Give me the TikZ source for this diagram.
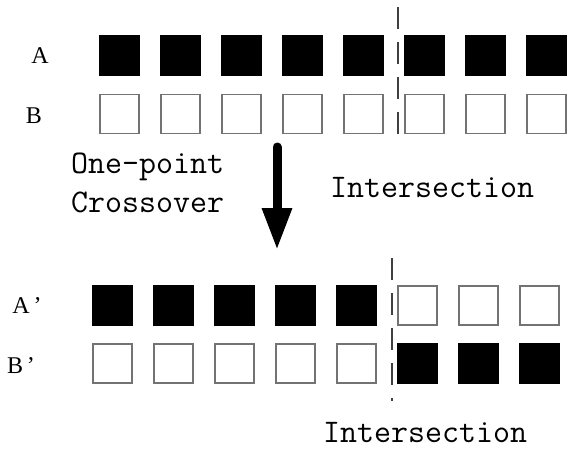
\documentclass[tikz,border=0pt]{standalone}
\usepackage{fontspec}
\newfontfamily\labelfont{Liberation Serif}
\usetikzlibrary{arrows.meta}

\begin{document}
\begin{tikzpicture}[x=1pt, y=-1pt, >={Triangle[width=28pt,length=42pt]}]

  \tikzstyle{gene} = [rectangle, minimum size=39pt, inner sep=0pt, line width=1.2pt];
  \tikzstyle{geneOne} = [gene, draw=black, fill=black];
  \tikzstyle{geneZero} = [gene, draw=black!55, fill=white];
  \tikzstyle{rowLabel} = [inner sep=0pt, font={\labelfont\fontsize{24}{24}\selectfont}];
  \tikzstyle{caption} = [inner sep=0pt, anchor=base west, font={\ttfamily\addfontfeature{FakeBold=1.2}\fontsize{33}{33}\selectfont}];
  \tikzstyle{cutLine} = [black!75, line width=1.5pt, dash pattern=on 22pt off 13pt];

  \useasboundingbox (0,0) rectangle (572,450);

  % Parents A and B
  \foreach \i in {1,...,8} {
    \node[geneOne, name=a\i] at ({119.5+61*(\i-1)}, 55.5) {};
    \node[geneZero, name=b\i] at ({119.5+61*(\i-1)}, 114) {};
  }
  \node[rowLabel, name=labelA] at (40,56) {A};
  \node[rowLabel, name=labelB] at (34,116) {B};

  % Cut point of the parents
  \coordinate (cutTopA) at (398,7);
  \coordinate (cutTopB) at (398,135);
  \draw[cutLine] (cutTopA) -- (cutTopB);
  \node[caption, name=interTop] at (330,197) {Intersection};

  % Crossover step
  \node[caption, name=onePoint] at (71,173) {One-point};
  \node[caption, name=crossover] at (71,212) {Crossover};
  \coordinate (stepA) at (277,147);
  \coordinate (stepB) at (277,250);
  \draw[->, line width=9pt, line cap=round] (stepA) -- (stepB);

  % Offspring A' and B'
  \foreach \i in {1,...,5} {
    \node[geneOne, name=c\i] at ({112.5+61*(\i-1)}, 305.5) {};
    \node[geneZero, name=d\i] at ({112.5+61*(\i-1)}, 363.5) {};
  }
  \foreach \i in {6,...,8} {
    \node[geneZero, name=c\i] at ({112.5+61*(\i-1)}, 305.5) {};
    \node[geneOne, name=d\i] at ({112.5+61*(\i-1)}, 363.5) {};
  }
  \node[rowLabel, name=labelAp] at (27,306) {A\,’};
  \node[rowLabel, name=labelBp] at (21,366) {B\,’};

  % Cut point of the offspring
  \coordinate (cutBotA) at (392,258);
  \coordinate (cutBotB) at (392,401);
  \draw[cutLine] (cutBotA) -- (cutBotB);
  \node[caption, name=interBot] at (323,442) {Intersection};

\end{tikzpicture}
\end{document}
